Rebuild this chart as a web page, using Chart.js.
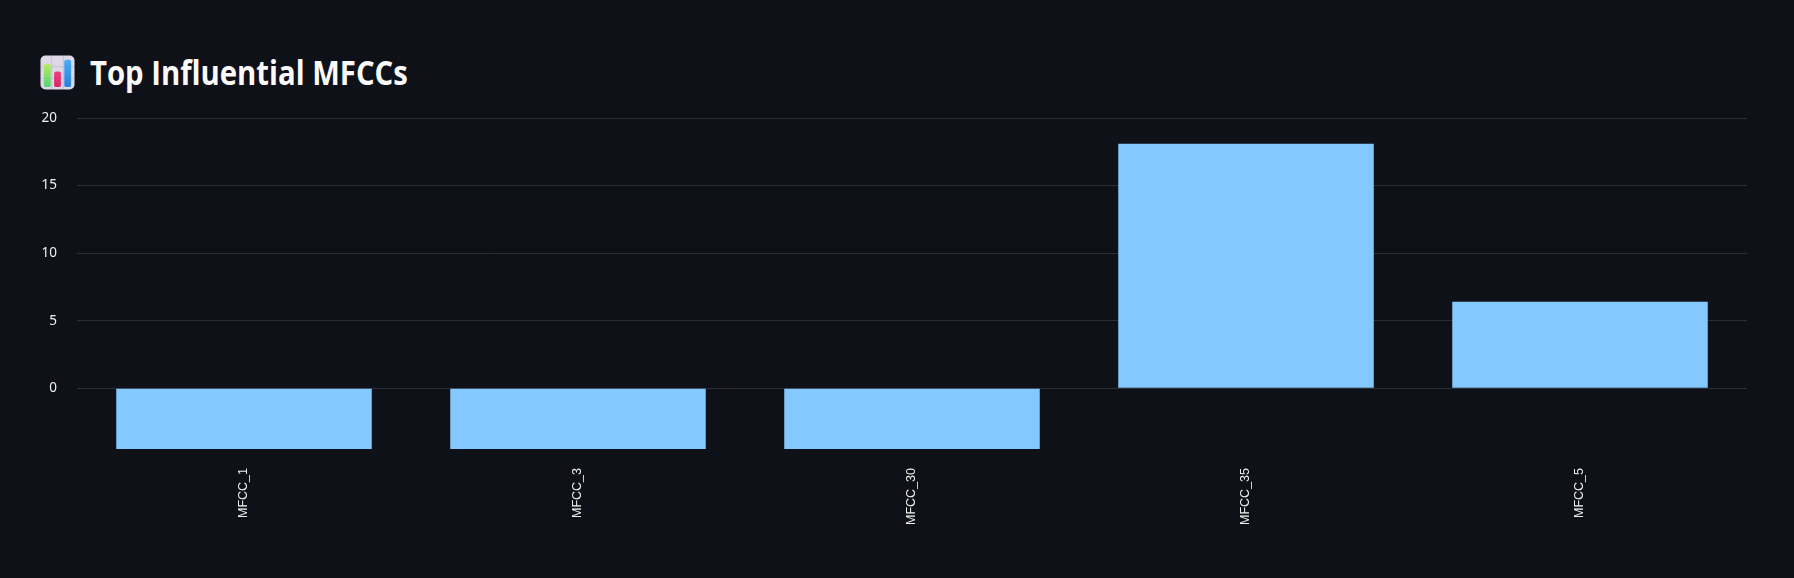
<!DOCTYPE html>
<html>
<head>
<meta charset="utf-8">
<script src="https://cdn.jsdelivr.net/npm/chart.js@4.4.0/dist/chart.umd.min.js"></script>
<style>
html, body { margin: 0; padding: 0; background: #0E1117; width: 1794px; height: 578px; overflow: hidden; }
#title { position: absolute; left: 40px; top: 50px; height: 44px; display: flex; align-items: center;
         color: #FAFAFA; font-family: 'Open Sans', sans-serif; font-weight: 700; font-size: 34px; white-space: nowrap; }
#title svg { width: 35px; height: 35px; margin-right: 15px; flex: none; }
#title span { display: inline-block; transform-origin: left center; }
#wrap { position: absolute; left: 0; top: 90px; width: 1794px; height: 488px; }
</style>
</head>
<body>
<div id="title">
  <svg viewBox="0 0 36 36" aria-hidden="true">
    <defs>
      <linearGradient id="g1" x1="0" y1="0" x2="0" y2="1">
        <stop offset="0" stop-color="#b8ec5c"/><stop offset="1" stop-color="#4fd27a"/>
      </linearGradient>
      <linearGradient id="g2" x1="0" y1="0" x2="0" y2="1">
        <stop offset="0" stop-color="#f0407e"/><stop offset="1" stop-color="#d6266a"/>
      </linearGradient>
      <linearGradient id="g3" x1="0" y1="0" x2="0" y2="1">
        <stop offset="0" stop-color="#46aef5"/><stop offset="1" stop-color="#2a7fe0"/>
      </linearGradient>
    </defs>
    <rect x="0.5" y="0.5" width="35" height="35" rx="5" fill="#dcd8e6"/>
    <path d="M12 1v34M24 1v34M1 12h34M1 24h34" stroke="#c3bed2" stroke-width="1"/>
    <rect x="4" y="9" width="7" height="24" rx="2" fill="url(#g1)"/>
    <rect x="14.5" y="17" width="7" height="16" rx="2" fill="url(#g2)"/>
    <rect x="25" y="5" width="7" height="28" rx="2" fill="url(#g3)"/>
  </svg>
  <span id="titleText">Top Influential MFCCs</span>
</div>
<div id="wrap"><canvas id="myChart"></canvas></div>
<script>
const ctx = document.getElementById('myChart');

// squeeze the title to the narrow width of the original heading font
const titleText = document.getElementById('titleText');
titleText.style.transform = 'scaleX(' + (318 / titleText.offsetWidth) + ')';

// categories and their importance values
const mfccNames = ['MFCC_1', 'MFCC_3', 'MFCC_30', 'MFCC_35', 'MFCC_5'];
const importance = [-4.5, -4.5, -4.5, 18.1, 6.4];
// y tick labels
const yTicks = [0, 5, 10, 15, 20];

const myChart = new Chart(ctx, {
    type: 'bar',
    data: {
        labels: mfccNames,
        datasets: [{
            label: 'Importance',
            data: importance,
            backgroundColor: '#83C9FF',
            borderWidth: 0,
            categoryPercentage: 1,
            barPercentage: 0.765
        }]
    },
    options: {
        responsive: true,
        maintainAspectRatio: false,
        animation: false,
        layout: { padding: { top: 0, right: 47, bottom: 0, left: 0 } },
        plugins: {
            legend: { display: false },
            tooltip: { enabled: false }
        },
        scales: {
            x: {
                grid: { display: false, drawTicks: false },
                border: { display: false },
                ticks: {
                    color: '#f0f0f0',
                    font: { family: 'Liberation Sans', size: 12.5 },
                    minRotation: 90,
                    maxRotation: 90,
                    autoSkip: false,
                    padding: 19
                },
                afterFit: function(scale) { scale.height = 129; }
            },
            y: {
                min: Math.min(...importance),
                max: yTicks[yTicks.length - 1],
                grid: { color: '#2c2e36', lineWidth: 1, drawTicks: false },
                border: { display: false },
                ticks: {
                    color: '#f0f0f0',
                    font: { family: 'Noto Sans', size: 13.5 },
                    padding: 20
                },
                afterBuildTicks: function(scale) {
                    scale.ticks = yTicks.map(function(v) { return { value: v }; });
                },
                afterFit: function(scale) { scale.width = 77; }
            }
        }
    }
});
</script>
</body>
</html>
